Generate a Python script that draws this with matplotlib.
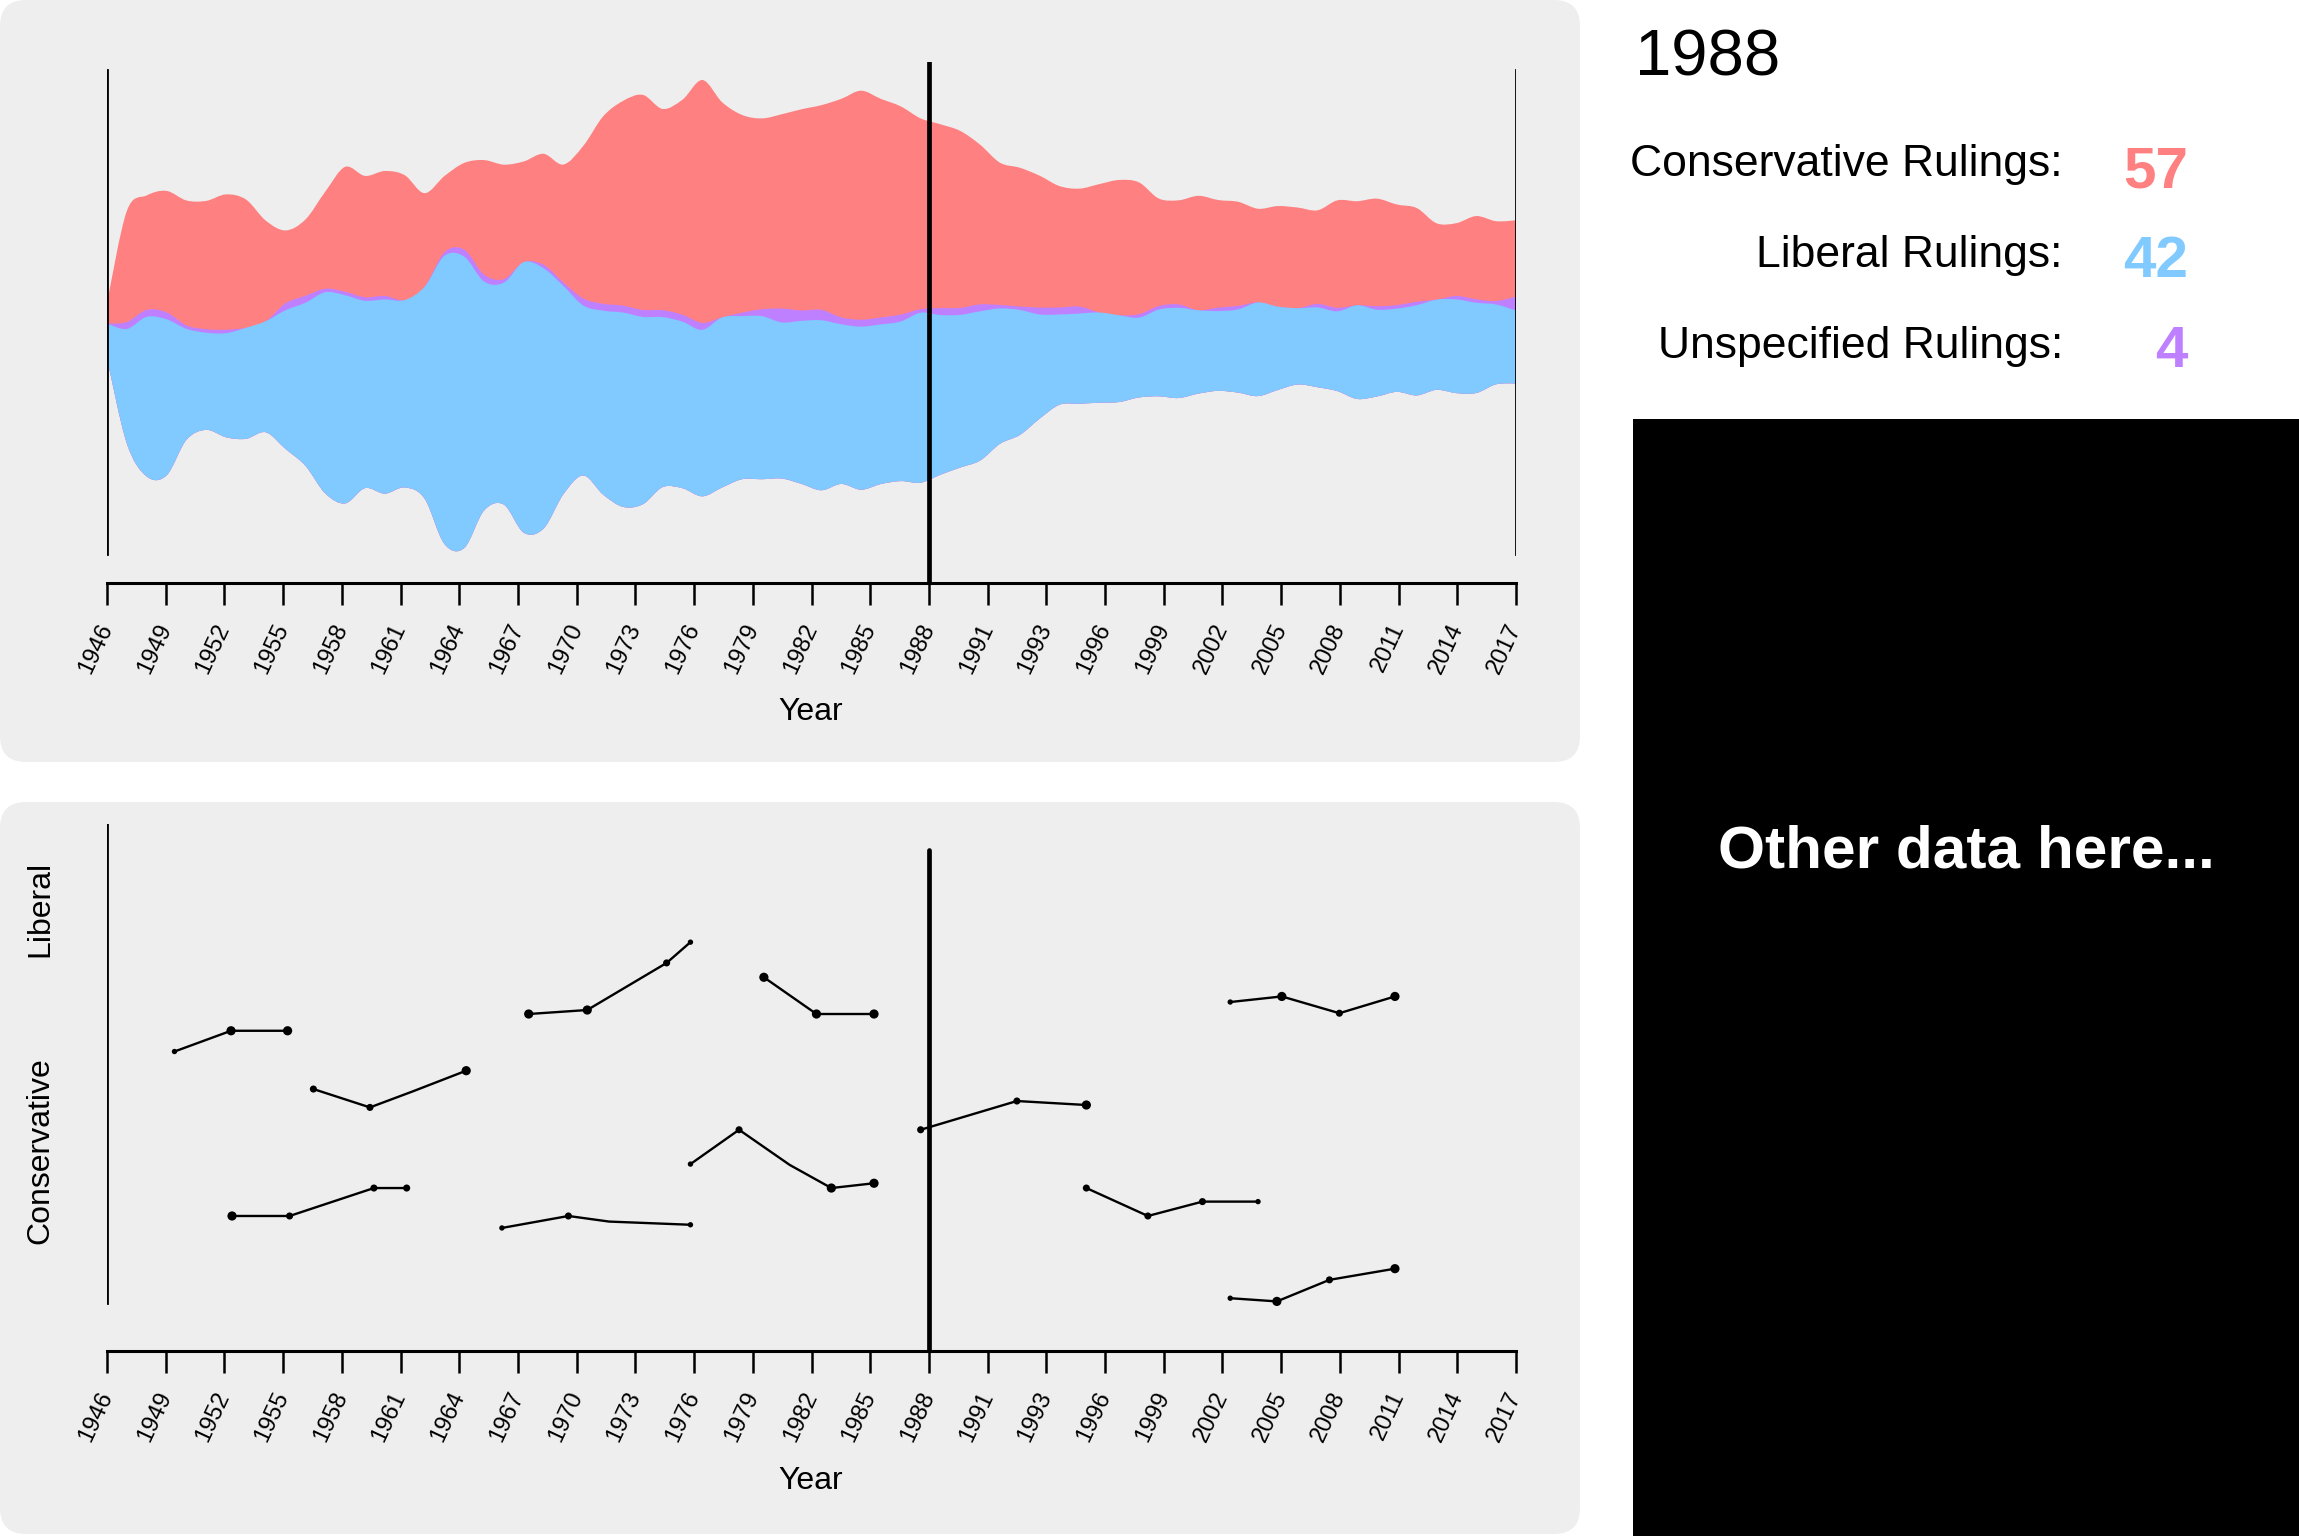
import numpy as np
import matplotlib
matplotlib.use('Agg')
import matplotlib.pyplot as plt
from matplotlib.path import Path
from matplotlib.patches import PathPatch, FancyBboxPatch, Rectangle

plt.rcParams['font.family'] = ['Liberation Sans', 'DejaVu Sans']

W, H = 2299, 1536

# rulings per year
years = np.arange(1946, 2018)
conservative = [6, 32, 33, 35, 36, 37, 39, 37, 29, 21,
                22, 28, 36, 35, 36, 36, 27, 22, 25, 33,
                33, 29, 32, 34, 44, 54, 59, 62, 58, 62,
                70, 62, 57, 55, 56, 58, 59, 63, 66, 63,
                60, 55, 53, 51, 46, 41, 40, 38, 35, 34,
                37, 39, 38, 31, 30, 33, 31, 30, 27, 29,
                29, 27, 31, 30, 31, 29, 27, 22, 21, 24,
                23, 22]
liberal = [10, 33, 46, 45, 32, 28, 30, 32, 32, 40,
           47, 58, 60, 54, 56, 54, 61, 83, 84, 66,
           64, 78, 75, 60, 49, 53, 56, 54, 49, 48,
           48, 49, 47, 47, 45, 47, 49, 46, 47, 46,
           46, 49, 46, 44, 43, 39, 36, 30, 26, 26,
           26, 25, 23, 25, 26, 24, 23, 24, 27, 24,
           22, 23, 23, 27, 25, 24, 26, 26, 27, 26,
           23, 21]
unspecified = [0, 2, 2, 2, 1, 1, 1, 0, 0, 2,
               2, 1, 1, 1, 1, 0, 0, 1, 2, 2,
               1, 0, 1, 1, 2, 2, 2, 2, 2, 2,
               2, 0, 1, 2, 4, 3, 3, 2, 2, 2,
               2, 1, 2, 2, 2, 1, 1, 2, 2, 2,
               0, 0, 1, 1, 1, 0, 1, 1, 0, 0,
               0, 1, 1, 0, 1, 1, 1, 0, 1, 1,
               1, 4]

tick_labels = ['1946', '1949', '1952', '1955', '1958', '1961', '1964', '1967',
               '1970', '1973', '1976', '1979', '1982', '1985', '1988', '1991',
               '1993', '1996', '1999', '2002', '2005', '2008', '2011', '2014', '2017']

selected_year = '1988'
summary_labels = ['Conservative Rulings:', 'Liberal Rulings:', 'Unspecified Rulings:']
summary_values = [57, 42, 4]

# ideology lines in the lower panel (negative = liberal)
seg_years = [[1949.4, 1952.25, 1955.1],
             [1956.4, 1959.25, 1961.4, 1964.1],
             [1952.3, 1955.2, 1959.45, 1961.1],
             [1967.25, 1970.2, 1974.2, 1975.4],
             [1965.9, 1969.25, 1971.3, 1975.4],
             [1979.1, 1981.75, 1984.65],
             [1975.4, 1977.85, 1980.4, 1982.5, 1984.65],
             [1987.0, 1991.85, 1995.35],
             [2002.6, 2005.2, 2008.1, 2010.9],
             [1995.35, 1998.45, 2001.2, 2004.0],
             [2002.6, 2004.95, 2007.6, 2010.9]]
seg_scores = [[-0.15, -0.41, -0.41],
              [0.32, 0.55, 0.35, 0.09],
              [1.91, 1.91, 1.56, 1.56],
              [-0.62, -0.67, -1.26, -1.52],
              [2.06, 1.91, 1.98, 2.02],
              [-1.08, -0.62, -0.62],
              [1.26, 0.83, 1.27, 1.56, 1.50],
              [0.83, 0.47, 0.52],
              [-0.77, -0.84, -0.63, -0.84],
              [1.56, 1.91, 1.73, 1.73],
              [2.94, 2.98, 2.71, 2.57]]
seg_weights = [[1, 3, 3],
               [2, 2, 0, 3],
               [3, 2, 2, 2],
               [3, 3, 2, 1],
               [1, 2, 0, 1],
               [3, 3, 3],
               [1, 2, 0, 3, 3],
               [2, 2, 3],
               [1, 3, 2, 3],
               [2, 2, 2, 1],
               [1, 3, 2, 3]]

red = '#ff8080'
blue = '#80caff'
purple = '#bf80ff'


def wiggle_baseline(layers):
    v = np.array(layers, dtype=float)
    n, m = v.shape
    base = np.zeros(m)
    y = 0.0
    for j in range(1, m):
        s1 = v[:, j].sum()
        s2 = 0.0
        for i in range(n):
            s3 = (v[i, j] - v[i, j - 1]) / 2 + (v[:i, j] - v[:i, j - 1]).sum()
            s2 += s3 * v[i, j]
        if s1:
            y -= s2 / s1
        base[j] = y
    return base


def smooth_verts(xs, ys):
    pts = np.column_stack([xs, ys])
    ext = np.vstack([pts[0], pts, pts[-1]])
    verts = []
    for k in range(len(pts) - 1):
        p0, p1, p2, p3 = ext[k], ext[k + 1], ext[k + 2], ext[k + 3]
        verts += [p1 + (p2 - p0) / 6, p2 - (p3 - p1) / 6, p2]
    return pts[0], verts


def area_patch(xs, lower, upper, color):
    s_up, up = smooth_verts(xs, upper)
    s_lo, lo = smooth_verts(xs[::-1], lower[::-1])
    verts = [s_up] + up + [s_lo] + lo + [s_up]
    codes = ([Path.MOVETO] + [Path.CURVE4] * len(up) + [Path.LINETO]
             + [Path.CURVE4] * len(lo) + [Path.CLOSEPOLY])
    return PathPatch(Path(verts, codes), facecolor=color, edgecolor='none', zorder=2)


fig = plt.figure(figsize=(W / 100, H / 100), dpi=100)
fig.patch.set_facecolor('white')

bg = fig.add_axes([0, 0, 1, 1])
bg.set_xlim(0, W)
bg.set_ylim(H, 0)
bg.axis('off')
bg.add_patch(FancyBboxPatch((0, 0), 1580, 762, boxstyle='round,pad=0,rounding_size=26',
                            fc='#eeeeee', ec='none'))
bg.add_patch(FancyBboxPatch((0, 802), 1580, 732, boxstyle='round,pad=0,rounding_size=26',
                            fc='#eeeeee', ec='none'))
bg.add_patch(Rectangle((1633, 419), W - 1633, H - 419, fc='black', ec='none'))
bg.text(1966, 852, 'Other data here...', color='white', fontsize=43.5, fontweight='bold',
        ha='center', va='center')

bg.text(1635, 75, selected_year, fontsize=47, ha='left', va='baseline')
num_colors = [red, blue, purple]
for i, (lab, val) in enumerate(zip(summary_labels, summary_values)):
    bg.text(2063, 176 + 91 * i, lab, fontsize=32, ha='right', va='baseline')
    bg.text(2188, 187 + 90 * i, str(val), fontsize=42, fontweight='bold',
            color=num_colors[i], ha='right', va='baseline')

bg.text(811, 712, 'Year', fontsize=23, ha='center', va='center')
bg.text(811, 1481, 'Year', fontsize=23, ha='center', va='center')
bg.text(40, 909, 'Liberal', fontsize=23, rotation=90, ha='center', va='center')
bg.text(40, 1151, 'Conservative', fontsize=23, rotation=90, ha='center', va='center')

tick_pos = np.linspace(years[0], years[-1], len(tick_labels))
sel_x = tick_pos[tick_labels.index(selected_year)]


def style_axis(ax):
    ax.set_xlim(years[0], years[-1])
    ax.patch.set_visible(False)
    for s in ['top', 'left', 'right']:
        ax.spines[s].set_visible(False)
    ax.spines['bottom'].set_linewidth(2.2)
    ax.set_yticks([])
    ax.set_xticks(tick_pos)
    ax.set_xticklabels(tick_labels, rotation=65, ha='right', va='center',
                       rotation_mode='anchor', fontsize=17)
    ax.tick_params(axis='x', length=15.8, width=1.8, pad=14, direction='out')


# ---- stream panel
top_px, bot_px = 62, 583
ax1 = fig.add_axes([107 / W, 1 - bot_px / H, 1409 / W, (bot_px - top_px) / H])
style_axis(ax1)

layers = [liberal, unspecified, conservative]
base = wiggle_baseline(layers)
lib_top = base + np.array(liberal)
uns_top = lib_top + np.array(unspecified)
con_top = uns_top + np.array(conservative)
xs = years.astype(float)
ax1.add_patch(area_patch(xs, base, con_top, red))
ax1.add_patch(area_patch(xs, base, uns_top, purple))
ax1.add_patch(area_patch(xs, base, lib_top, blue))

lo, hi = base.min(), con_top.max()
ppu = (548 - 80) / (hi - lo)
ax1.set_ylim(lo - (bot_px - 548) / ppu, hi + (80 - top_px) / ppu)

span = bot_px - top_px
ax1.axvline(years[0], ymin=(bot_px - 554) / span, ymax=(bot_px - 70) / span,
            color='black', lw=2, zorder=3)
ax1.axvline(years[-1], ymin=(bot_px - 554) / span, ymax=(bot_px - 70) / span,
            color='black', lw=2, zorder=3)
ax1.axvline(sel_x, ymin=0, ymax=1, color='black', lw=3.4, zorder=4,
            solid_capstyle='round')

# ---- ideology panel
top2, bot2 = 824, 1351
ax2 = fig.add_axes([107 / W, 1 - bot2 / H, 1409 / W, (bot2 - top2) / H])
style_axis(ax2)
ax2.set_ylim(-3 + 6 * (bot2 - top2) / 479, -3)
span2 = bot2 - top2
ax2.axvline(years[0], ymin=(bot2 - 1303) / span2, ymax=1, color='black', lw=2)
ax2.axvline(sel_x, ymin=0, ymax=(bot2 - 850) / span2, color='black', lw=3.4,
            solid_capstyle='round', zorder=5)

weight_size = {0: 0, 1: 15, 2: 26, 3: 44}
for sx, sy, sw in zip(seg_years, seg_scores, seg_weights):
    ax2.plot(sx, sy, color='black', lw=1.7, zorder=3)
    ax2.scatter(sx, sy, s=[weight_size[w] for w in sw], color='black',
                linewidths=0, zorder=4)

fig.savefig('out.png', dpi=100)
